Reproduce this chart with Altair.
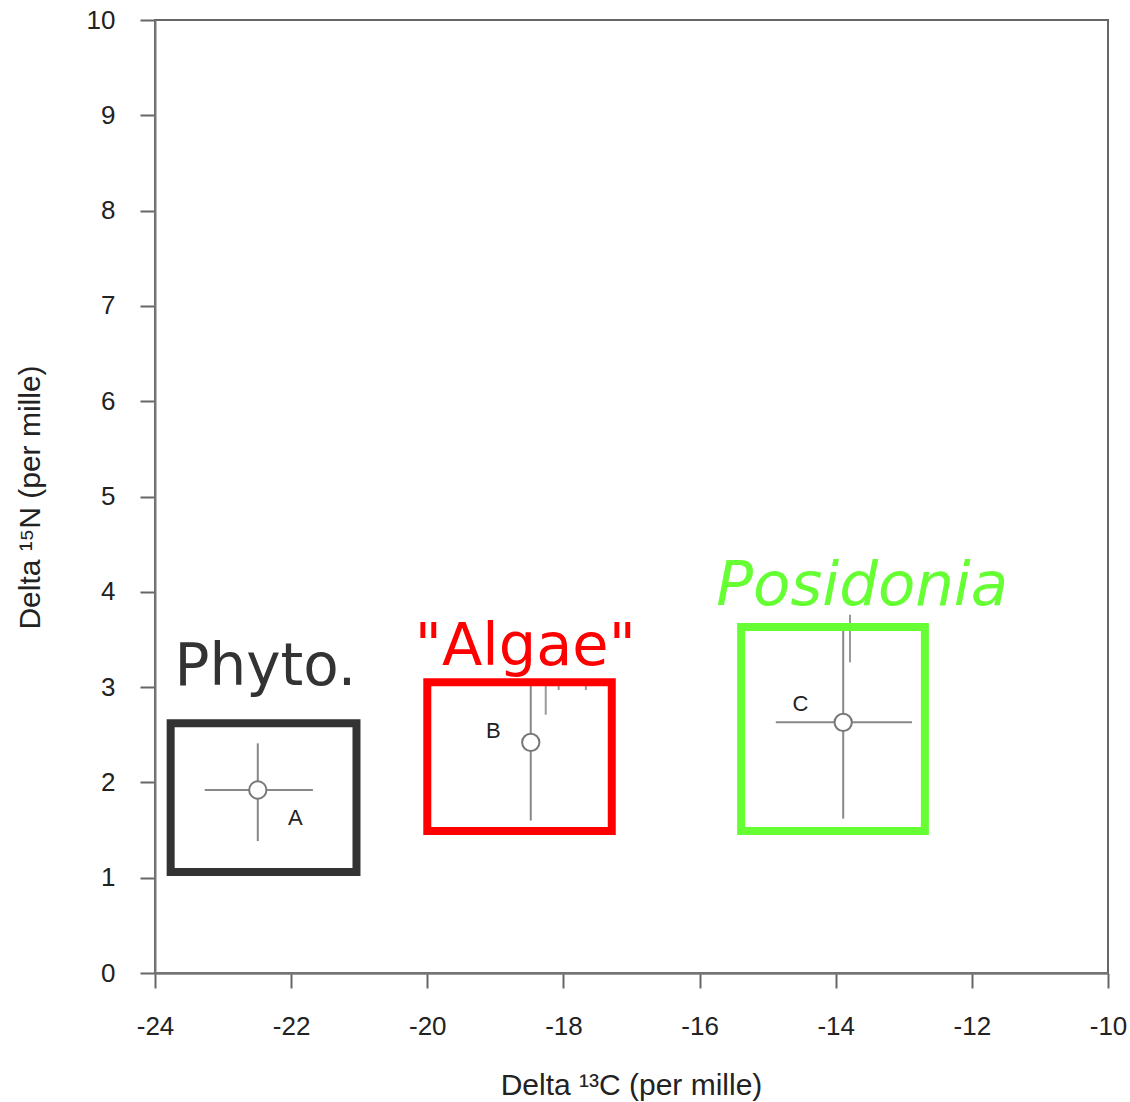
import altair as alt
import pandas as pd

# ---- data ----
pt_label = ["A", "B", "C"]
pt_x = [-22.49, -18.48, -13.89]
pt_y = [1.92, 2.42, 2.63]

# error bar segments (x, x2, y, y2)
seg_x = [-23.27, -22.49, -18.48, -14.88, -13.89]
seg_x2 = [-21.68, -22.49, -18.48, -12.88, -13.89]
seg_y = [1.92, 1.385, 1.60, 2.63, 1.62]
seg_y2 = [1.92, 2.41, 3.02, 2.63, 3.60]

# faint remnant marks from the original figure
rem_x = [-18.26, -18.07, -17.67, -13.79]
rem_y = [2.71, 2.97, 2.97, 3.26]
rem_y2 = [3.02, 3.02, 3.02, 3.76]

# letter labels next to points
let_x = [-21.94, -19.03, -14.52]
let_y = [1.63, 2.54, 2.82]

# group boxes
box_name = ["Phyto.", "\"Algae\"", "Posidonia"]
box_x = [-23.77, -20.0, -15.39]
box_x2 = [-21.04, -17.29, -12.69]
box_y = [1.06, 1.49, 1.49]
box_y2 = [2.62, 3.05, 3.63]
box_color = ["#333333", "#ff0000", "#66ff33"]

# group label positions
glab_x = [-22.38, -18.56, -13.61]
glab_y = [3.02, 3.23, 3.86]
glab_size = [58, 59, 61]

x_ticks = [-24, -22, -20, -18, -16, -14, -12, -10]
y_ticks = list(range(0, 11))

# ---- tables ----
pts = pd.DataFrame({"label": pt_label, "x": pt_x, "y": pt_y})
segs = pd.DataFrame({"x": seg_x, "x2": seg_x2, "y": seg_y, "y2": seg_y2})
rems = pd.DataFrame({"x": rem_x, "y": rem_y, "y2": rem_y2})
lets = pd.DataFrame({"label": pt_label, "x": let_x, "y": let_y})
boxes = pd.DataFrame({"name": box_name, "x": box_x, "x2": box_x2,
                      "y": box_y, "y2": box_y2, "color": box_color})
glabs = pd.DataFrame({"name": box_name, "x": glab_x, "y": glab_y,
                      "color": box_color, "size": glab_size})

xs = alt.Scale(domain=[-24, -10], nice=False, zero=False)
ys = alt.Scale(domain=[0, 10], nice=False, zero=False)

font = "Liberation Sans"

x_enc = alt.X("x:Q", scale=xs, axis=alt.Axis(
    title="Delta ¹³C (per mille)", values=x_ticks, labelExpr="'' + datum.value",
    labelFlush=False, labelOverlap=False,
    grid=False, tickSize=15, tickColor="#666", tickWidth=2,
    domainColor="#777", domainWidth=2.5,
    labelFont=font, labelFontSize=26, labelColor="#222", labelPadding=25,
    titleFont=font, titleFontSize=30, titleFontWeight="normal", titleColor="#222",
    titleX=476, titleY=112, titleBaseline="middle", titleAlign="center"))
y_enc = alt.Y("y:Q", scale=ys, axis=alt.Axis(
    title="Delta ¹⁵N (per mille)", values=y_ticks, labelExpr="'' + datum.value",
    labelFlush=False, labelOverlap=False,
    grid=False, tickSize=15, tickColor="#666", tickWidth=2,
    domainColor="#777", domainWidth=2,
    labelFont=font, labelFontSize=26, labelColor="#222", labelPadding=25,
    titleFont=font, titleFontSize=30, titleFontWeight="normal", titleColor="#222",
    titleX=-125, titleY=477, titleBaseline="middle", titleAlign="center", titleAngle=-90))

base_x = alt.X("x:Q", scale=xs)
base_y = alt.Y("y:Q", scale=ys)

err = alt.Chart(segs).mark_rule(color="#888", strokeWidth=2).encode(
    x=x_enc, x2="x2:Q", y=y_enc, y2="y2:Q")

rem = alt.Chart(rems).mark_rule(color="#999", strokeWidth=2).encode(
    x=base_x, y=base_y, y2="y2:Q")

circ = alt.Chart(pts).mark_point(shape="circle", filled=False, fill="white",
                                  fillOpacity=1, stroke="#777", strokeWidth=2,
                                  size=300, opacity=1).encode(x=base_x, y=base_y)

lett = alt.Chart(lets).mark_text(font=font, fontSize=22, color="#222").encode(
    x=base_x, y=base_y, text="label:N")

rects = alt.Chart(boxes).mark_rect(fill=None, filled=False, strokeWidth=8).encode(
    x=base_x, x2="x2:Q", y=base_y, y2="y2:Q",
    stroke=alt.Stroke("color:N", scale=None))

glab_upright = alt.Chart(glabs[glabs["name"] != "Posidonia"]).mark_text(
    font="DejaVu Sans", baseline="alphabetic", align="center").encode(
    x=base_x, y=base_y, text="name:N", color=alt.Color("color:N", scale=None),
    size=alt.Size("size:Q", scale=None))

glab_italic = alt.Chart(glabs[glabs["name"] == "Posidonia"]).mark_text(
    font="DejaVu Sans", fontStyle="italic", baseline="alphabetic",
    align="center").encode(
    x=base_x, y=base_y, text="name:N", color=alt.Color("color:N", scale=None),
    size=alt.Size("size:Q", scale=None))

chart = alt.layer(err, rem, circ, lett, rects, glab_upright, glab_italic).properties(
    width=953, height=953,
    padding={"left": 155, "top": 20, "right": 22, "bottom": 129},
    autosize=alt.AutoSizeParams(type="none"),
    background="white",
).configure_view(stroke="#666", strokeWidth=2)

chart.save("out.html", embed_options={"renderer": "svg", "actions": False})
